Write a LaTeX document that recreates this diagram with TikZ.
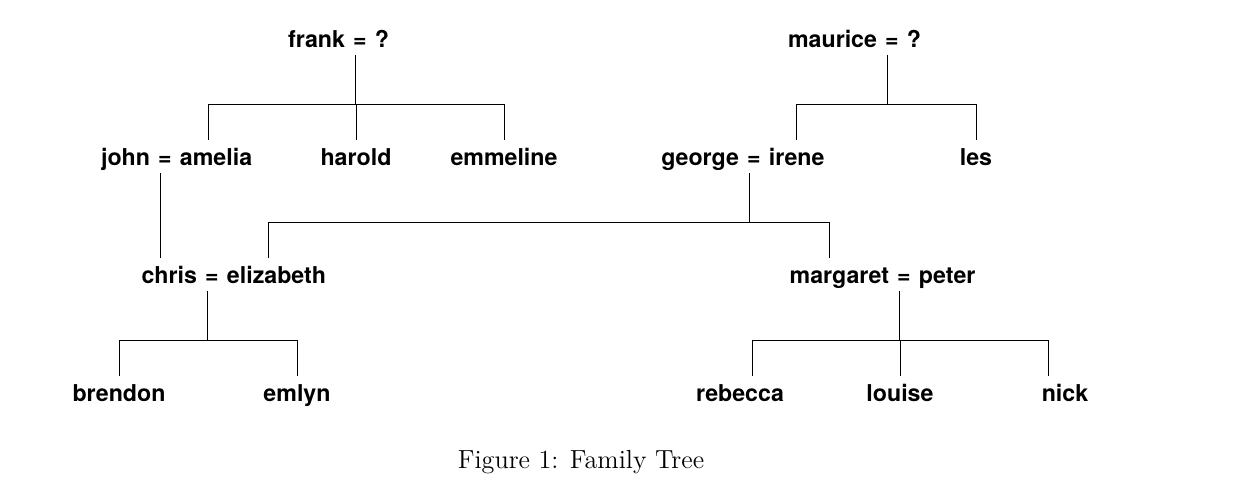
\documentclass[tikz,border=0pt]{standalone}
\usepackage{fontspec}
\setsansfont{TeX Gyre Heros}
\usetikzlibrary{positioning,calc}
\tikzset{
  person/.style={font=\fontsize{13.2}{15}\selectfont\sffamily\bfseries,
                 inner sep=0pt,anchor=base,text height=0.5cm,text depth=0.16cm},
  link/.style={draw,line width=0.45pt},
  caption/.style={font=\fontsize{14.9}{17}\selectfont,anchor=base,inner sep=0pt}
}

\begin{document}
\begin{tikzpicture}[x=0.02cm,y=-0.02cm,node distance=0.15cm]
    \useasboundingbox (0,0) rectangle (1237,477);

    \node[person] (eqf) at (360,47) {=};
    \node[person,left=of eqf] (frank) {frank};
    \node[person,right=of eqf] (wifef) {?};
    \node[person] (eqm) at (892,47) {=};
    \node[person,left=of eqm] (maurice) {maurice};
    \node[person,right=of eqm] (wifem) {?};

    \node[person] (eqj) at (165,165) {=};
    \node[person,left=of eqj] (john) {john};
    \node[person,right=of eqj] (amelia) {amelia};
    \node[person] (harold) at (356,165) {harold};
    \node[person] (emmeline) at (504,165) {emmeline};
    \node[person] (eqg) at (754,165) {=};
    \node[person,left=of eqg] (george) {george};
    \node[person,right=of eqg] (irene) {irene};
    \node[person] (les) at (976,165) {les};

    \node[person] (eqc) at (212,283) {=};
    \node[person,left=of eqc] (chris) {chris};
    \node[person,right=of eqc] (elizabeth) {elizabeth};
    \node[person] (eqp) at (904,283) {=};
    \node[person,left=of eqp] (margaret) {margaret};
    \node[person,right=of eqp] (peter) {peter};

    \node[person] (brendon) at (119,401) {brendon};
    \node[person] (emlyn) at (297,401) {emlyn};
    \node[person] (rebecca) at (740,401) {rebecca};
    \node[person] (louise) at (900,401) {louise};
    \node[person] (nick) at (1065,401) {nick};

    \draw[link] ($(amelia.north)+(-8,0)$) -- ++(0,-35) -| (eqf.255);
    \foreach \kid in {harold,emmeline}
      \draw[link] (\kid.north) -- ++(0,-35) -| (eqf.255);
    \foreach \kid in {irene,les}
      \draw[link] (\kid.north) -- ++(0,-35) -| (eqm.255);
    \draw[link] (eqj.255) -- (eqj.255 |- chris.north);
    \draw[link] ($(elizabeth.north)+(-8,0)$) -- ++(0,-35) -| (eqg.255);
    \draw[link] ($(margaret.north)+(-10,0)$) -- ++(0,-35) -| (eqg.255);
    \foreach \kid in {brendon,emlyn}
      \draw[link] (\kid.north) -- ++(0,-35) -| (eqc.255);
    \draw[link] ($(rebecca.north)+(12,0)$) -- ++(0,-35) -| (eqp.255);
    \draw[link] (louise.north) -- ++(0,-35) -| (eqp.255);
    \draw[link] ($(nick.north)+(-17,0)$) -- ++(0,-35) -| (eqp.255);

    \node[caption] (cap) at (581,468) {Figure 1: Family Tree};
\end{tikzpicture}
\end{document}
